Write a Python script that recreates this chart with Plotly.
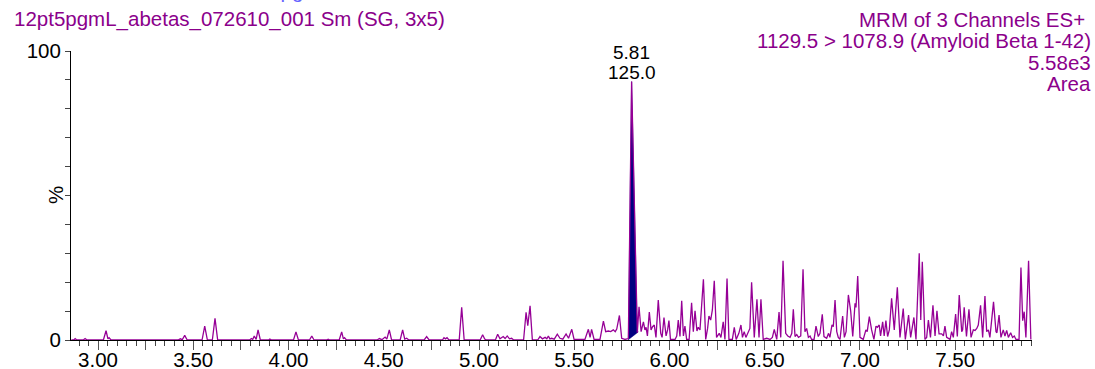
import plotly.graph_objects as go

# ---- data: retention time (min) vs relative intensity (%) ----
pre_peak = [
    (2.860, 0.0), (2.872, 0.0), (2.880, 0.5), (2.888, 0.0), (2.922, 0.0), (2.932, 0.5), (2.942, 0.0),
    (3.028, 0.0), (3.042, 3.2), (3.052, 0.4), (3.058, 0.8), (3.068, 0.0),
    (3.420, 0.0), (3.432, 0.4), (3.442, 0.1), (3.455, 1.6), (3.468, 0.0),
    (3.546, 0.0), (3.560, 4.8), (3.574, 0.0), (3.600, 0.0), (3.614, 7.5), (3.628, 0.0),
    (3.795, 0.0), (3.805, 0.5), (3.812, 0.2), (3.820, 1.4), (3.830, 0.2), (3.840, 3.5), (3.852, 0.0),
    (3.895, 0.0), (3.902, 0.3), (3.910, 0.0),
    (4.026, 0.0), (4.039, 2.8), (4.052, 0.0), (4.110, 0.0), (4.122, 1.4), (4.134, 0.0),
    (4.200, 0.0), (4.208, 0.3), (4.216, 0.0), (4.266, 0.0), (4.279, 2.8), (4.288, 0.4), (4.294, 0.8), (4.304, 0.0),
    (4.465, 0.0), (4.477, 0.5), (4.490, 0.1), (4.507, 1.0), (4.516, 0.3), (4.529, 3.5), (4.541, 0.0),
    (4.586, 0.0), (4.599, 3.5), (4.610, 0.3), (4.620, 0.6), (4.632, 0.0),
    (4.712, 0.0), (4.725, 1.2), (4.738, 0.0), (4.808, 0.0), (4.816, 0.8), (4.824, 0.4), (4.832, 0.8), (4.842, 0.0),
    (4.896, 0.0), (4.909, 11.3), (4.922, 0.0),
    (5.006, 0.0), (5.019, 1.8), (5.030, 0.3), (5.040, 0.0),
    (5.086, 0.0), (5.098, 2.0), (5.110, 0.4), (5.127, 1.2), (5.137, 0.5), (5.148, 1.4), (5.160, 0.4), (5.171, 0.6), (5.182, 0.0),
    (5.234, 0.0), (5.247, 9.6), (5.256, 5.0), (5.268, 11.8), (5.280, 0.0),
    (5.308, 0.0), (5.320, 1.2), (5.333, 0.4), (5.347, 0.9), (5.356, 0.4), (5.364, 1.4), (5.372, 0.4), (5.381, 0.6),
    (5.395, 0.3), (5.411, 2.0), (5.425, 0.6), (5.440, 0.3), (5.457, 2.1), (5.470, 0.6), (5.487, 3.7), (5.499, 0.2),
    (5.556, 0.2), (5.574, 3.7), (5.583, 0.9), (5.591, 3.7), (5.604, 0.2), (5.635, 0.2), (5.653, 6.5), (5.665, 2.9),
    (5.679, 3.1), (5.691, 2.9), (5.705, 3.5), (5.715, 2.9), (5.723, 3.8), (5.737, 8.5), (5.749, 0.6), (5.766, 0.2),
]

peak_t = [5.784, 5.801, 5.831]
peak_y = [0.5, 89.4, 2.5]
peak_base_t = [5.836, 5.782]
peak_base_y = [2.8, 0.0]
peak_rt_label = "5.81"
peak_area_label = "125.0"

post_peak = [
    (5.840, 11.5), (5.851, 2.9), (5.863, 6.3), (5.871, 3.5), (5.877, 4.4), (5.884, 1.4), (5.894, 9.7), (5.903, 3.5),
    (5.911, 4.6), (5.920, 5.2), (5.929, 0.9), (5.941, 13.8), (5.954, 2.3), (5.961, 0.9), (5.971, 7.8), (5.982, 1.4),
    (5.990, 3.5), (5.997, 6.7), (6.005, 0.2), (6.029, 0.2), (6.038, 1.4), (6.046, 6.9), (6.055, 1.2), (6.064, 13.6),
    (6.073, 1.4), (6.081, 4.8), (6.090, 0.2), (6.103, 0.2), (6.116, 12.9), (6.125, 2.9), (6.134, 10.1), (6.144, 3.1),
    (6.151, 4.4), (6.160, 3.5), (6.178, 21.0), (6.190, 0.2), (6.200, 4.0), (6.207, 8.3), (6.216, 6.9), (6.225, 10.4),
    (6.235, 20.5), (6.247, 0.9), (6.261, 2.3), (6.270, 0.9), (6.282, 6.3), (6.291, 0.2), (6.302, 21.3), (6.312, 0.2),
    (6.330, 0.2), (6.340, 4.4), (6.350, 0.2), (6.364, 2.3), (6.375, 5.2), (6.383, 0.9), (6.392, 2.9), (6.401, 0.9),
    (6.413, 2.9), (6.422, 4.0), (6.431, 20.0), (6.445, 0.9), (6.459, 14.1), (6.470, 0.9), (6.480, 14.1), (6.492, 0.2),
    (6.510, 0.6), (6.528, 0.2), (6.540, 0.9), (6.550, 3.7), (6.563, 0.2), (6.575, 9.7), (6.584, 0.9), (6.596, 27.4),
    (6.610, 2.3), (6.621, 1.4), (6.633, 0.9), (6.642, 2.3), (6.650, 10.6), (6.659, 1.2), (6.668, 1.9), (6.677, 0.9),
    (6.689, 1.4), (6.701, 24.5), (6.711, 2.9), (6.720, 4.0), (6.729, 0.9), (6.738, 1.4), (6.746, 0.2), (6.759, 0.2),
    (6.769, 4.8), (6.781, 1.2), (6.790, 2.3), (6.802, 8.9), (6.811, 1.2), (6.825, 0.6), (6.835, 2.3), (6.842, 0.9),
    (6.853, 5.2), (6.860, 4.6), (6.869, 13.8), (6.878, 2.9), (6.886, 0.9), (6.895, 0.2), (6.909, 8.3), (6.918, 0.9),
    (6.927, 2.9), (6.939, 15.6), (6.951, 10.1), (6.962, 1.2), (6.974, 12.7), (6.979, 11.3), (6.988, 22.1), (7.000, 0.9),
    (7.017, 0.2), (7.031, 3.5), (7.038, 2.9), (7.049, 8.1), (7.061, 3.5), (7.073, 0.2), (7.084, 4.8), (7.091, 4.4),
    (7.101, 5.2), (7.108, 1.4), (7.119, 6.3), (7.127, 1.4), (7.136, 6.7), (7.145, 1.2), (7.154, 3.5), (7.166, 14.4),
    (7.180, 3.5), (7.196, 18.2), (7.210, 0.9), (7.227, 10.9), (7.238, 0.2), (7.255, 8.6), (7.266, 0.9), (7.283, 7.8),
    (7.294, 0.2), (7.311, 30.0), (7.319, 6.9), (7.327, 27.1), (7.341, 0.2), (7.350, 0.9), (7.359, 6.9), (7.370, 0.9),
    (7.383, 12.0), (7.394, 1.4), (7.404, 10.1), (7.415, 2.1), (7.429, 2.1), (7.438, 1.4), (7.446, 4.8), (7.455, 0.9),
    (7.473, 0.2), (7.481, 2.9), (7.490, 0.9), (7.502, 9.0), (7.511, 1.2), (7.521, 15.6), (7.534, 2.9), (7.539, 3.5),
    (7.547, 11.3), (7.559, 1.2), (7.572, 10.6), (7.583, 0.9), (7.595, 3.5), (7.604, 3.3), (7.613, 4.0), (7.621, 5.2),
    (7.633, 12.0), (7.644, 0.9), (7.656, 15.2), (7.665, 2.9), (7.674, 3.5), (7.682, 0.9), (7.701, 13.2), (7.714, 2.9),
    (7.719, 2.5), (7.730, 8.6), (7.740, 0.9), (7.752, 3.5), (7.761, 1.4), (7.770, 3.3), (7.779, 0.9), (7.791, 2.5),
    (7.801, 0.9), (7.810, 1.4), (7.819, 0.2), (7.835, 0.2), (7.845, 25.1), (7.854, 6.7), (7.862, 9.8), (7.871, 0.9),
    (7.885, 27.4), (7.897, 0.2),
]

x_tick_vals = [3.00, 3.25, 3.50, 3.75, 4.00, 4.25, 4.50, 4.75, 5.00, 5.25, 5.50, 5.75,
               6.00, 6.25, 6.50, 6.75, 7.00, 7.25, 7.50, 7.75]
x_tick_text = ["3.00", "", "3.50", "", "4.00", "", "4.50", "", "5.00", "", "5.50", "",
               "6.00", "", "6.50", "", "7.00", "", "7.50", ""]
y_tick_vals = [0, 100]
y_tick_text = ["0", "100"]

title_left = "12pt5pgmL_abetas_072610_001 Sm (SG, 3x5)"
title_top_cut = "Abeta 1-42 Standard 12.5 pg/mL"
right_lines = ["MRM of 3 Channels ES+\u00a0", "1129.5 > 1078.9 (Amyloid Beta 1-42)", "5.58e3", "Area"]

# ---- build ----
all_t = [p[0] for p in pre_peak] + peak_t + [p[0] for p in post_peak]
all_y = [p[1] for p in pre_peak] + peak_y + [p[1] for p in post_peak]
fill_t = peak_t + peak_base_t
fill_y = peak_y + peak_base_y

PURPLE = "#8B008B"
FONT = "Arial, 'Liberation Sans', sans-serif"
FS = 20.5

fig = go.Figure()
fig.add_trace(go.Scatter(x=fill_t, y=fill_y, mode="lines", fill="toself", fillcolor="#000080",
                         line=dict(color="#000080", width=0.5), hoverinfo="skip", showlegend=False))
fig.add_trace(go.Scatter(x=all_t, y=all_y, mode="lines", line=dict(color="#960096", width=1.3),
                         showlegend=False))

L, R, T, B = 71, 63, 51, 29
W, H = 1095, 369
pw, ph = W - L - R, H - T - B


def px_x(px):
    return (px - L) / pw


def px_y(py):
    return (H - B - py) / ph


annotations = [
    dict(text=title_left, xref="paper", yref="paper", x=px_x(12), y=px_y(19), xanchor="left", yanchor="middle",
         showarrow=False, font=dict(size=FS, color=PURPLE, family=FONT)),
    dict(text=title_top_cut, xref="paper", yref="paper", x=px_x(38), y=px_y(-10), xanchor="left", yanchor="middle",
         showarrow=False, font=dict(size=FS, color="#6666FF", family=FONT)),
    dict(text="%", xref="paper", yref="paper", x=px_x(55), y=px_y(195), xanchor="center", yanchor="middle",
         textangle=-90, showarrow=False, font=dict(size=FS, color="black", family=FONT)),
    dict(text=peak_rt_label, xref="x", yref="paper", x=peak_t[1], y=px_y(52), xanchor="center", yanchor="middle",
         showarrow=False, font=dict(size=19, color="black", family=FONT)),
    dict(text=peak_area_label, xref="x", yref="paper", x=peak_t[1], y=px_y(72), xanchor="center", yanchor="middle",
         showarrow=False, font=dict(size=19, color="black", family=FONT)),
]
for line, py in zip(right_lines, [19, 41, 62, 83]):
    annotations.append(dict(text=line, xref="paper", yref="paper", x=px_x(1093), y=px_y(py), xanchor="right",
                            yanchor="middle", showarrow=False, font=dict(size=FS, color=PURPLE, family=FONT)))

fig.update_layout(
    width=W, height=H, autosize=False,
    margin=dict(l=L, r=R, t=T, b=B, pad=0, autoexpand=False),
    plot_bgcolor="white", paper_bgcolor="white",
    font=dict(family=FONT, size=FS, color="black"),
    showlegend=False,
    annotations=annotations,
    xaxis=dict(range=[2.858, 7.903], tickmode="array", tickvals=x_tick_vals, ticktext=x_tick_text,
               automargin=False, ticklabelstandoff=-8,
               ticks="outside", ticklen=9, tickwidth=1, tickcolor="#555555",
               showline=True, linecolor="black", linewidth=1, showgrid=False, zeroline=False,
               tickfont=dict(size=FS, color="black", family=FONT),
               minor=dict(tick0=3.0, dtick=0.05, ticks="outside", ticklen=5, tickcolor="#444444", tickwidth=1)),
    yaxis=dict(range=[0, 100], tickmode="array", tickvals=y_tick_vals, ticktext=y_tick_text,
               automargin=False,
               ticks="outside", ticklen=5, tickwidth=1, tickcolor="#444444",
               showline=True, linecolor="black", linewidth=1, showgrid=False, zeroline=False,
               tickfont=dict(size=FS, color="black", family=FONT),
               minor=dict(dtick=10, ticks="outside", ticklen=5, tickcolor="#444444", tickwidth=1)),
)

fig.write_html("out.html", config={"displayModeBar": False},
               post_script="document.body.style.margin='0';document.body.style.overflow='hidden';")
